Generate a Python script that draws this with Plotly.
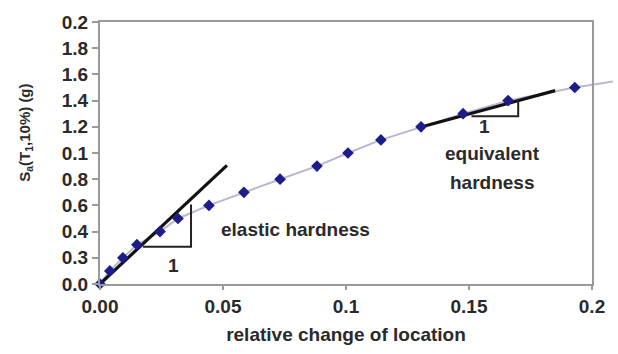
import plotly.graph_objects as go

# Pushover-style capacity curve: spectral acceleration vs relative change of location
drift = [0.0, 0.004, 0.0093, 0.015, 0.0244, 0.0317, 0.0443, 0.0585, 0.0732,
         0.0882, 0.1008, 0.1142, 0.1305, 0.1476, 0.1659, 0.193]
sa = [0.0, 0.1, 0.2, 0.3, 0.4, 0.5, 0.6, 0.7, 0.8, 0.9, 1.0, 1.1, 1.2, 1.3, 1.4, 1.5]

# continuation of the fitted curve past the last analysis point
curve_tail_x = [0.193, 0.2085]
curve_tail_y = [1.5, 1.545]

# tangent lines
elastic_x = [0.0, 0.0516]
elastic_y = [0.0, 0.906]
equiv_x = [0.132, 0.185]
equiv_y = [1.206, 1.476]

# slope triangles (x0, x1, y0, y1)
elastic_tri = [0.0175, 0.0370, 0.285, 0.607]
equiv_tri = [0.1510, 0.1700, 1.280, 1.400]

y_tickvals = [0.0, 0.2, 0.4, 0.6, 0.8, 1.0, 1.2, 1.4, 1.6, 1.8, 2.0]
y_ticktext = ["0.0", "0.3", "0.4", "0.6", "0.8", "0.1", "1.2", "1.4", "1.6", "1.8", "0.2"]
x_tickvals = [0.0, 0.05, 0.1, 0.15, 0.2]
x_ticktext = ["0.00", "0.05", "0.1", "0.15", "0.2"]

X_RANGE = [0, 0.2]
Y_RANGE = [0, 2.0]

FONT = "Arial, Liberation Sans, sans-serif"
TXT = "#2a2a2a"
AX = "#9a9a9a"
CURVE = "#b9b8cf"


def to_paper(v, rng):
    return (v - rng[0]) / (rng[1] - rng[0])


fig = go.Figure()

fig.add_trace(go.Scatter(x=drift, y=sa, mode="lines", line=dict(color=CURVE, width=2),
                         hoverinfo="skip", showlegend=False))
# the curve keeps running a little past the frame on the right
fig.add_shape(type="line", xref="paper", yref="paper",
              x0=to_paper(curve_tail_x[0], X_RANGE), y0=to_paper(curve_tail_y[0], Y_RANGE),
              x1=to_paper(curve_tail_x[1], X_RANGE), y1=to_paper(curve_tail_y[1], Y_RANGE),
              line=dict(color=CURVE, width=2), layer="below")

fig.add_trace(go.Scatter(x=elastic_x, y=elastic_y, mode="lines",
                         line=dict(color="#111111", width=3.2), showlegend=False))
fig.add_trace(go.Scatter(x=equiv_x, y=equiv_y, mode="lines",
                         line=dict(color="#111111", width=3.2), showlegend=False))
fig.add_trace(go.Scatter(x=drift, y=sa, mode="markers",
                         marker=dict(symbol="diamond", size=9, color="#1c1c8a"),
                         cliponaxis=False, showlegend=False))

for tri in (elastic_tri, equiv_tri):
    x0, x1, y0, y1 = tri
    fig.add_trace(go.Scatter(x=[x0, x1, x1], y=[y0, y0, y1], mode="lines",
                             line=dict(color="#222222", width=2),
                             showlegend=False, hoverinfo="skip"))

ann_font = dict(family=FONT, size=19, color=TXT, weight="bold")
fig.add_annotation(x=0.0297, y=0.142, text="1", showarrow=False, font=ann_font)
fig.add_annotation(x=0.0485, y=0.415, text="elastic hardness", showarrow=False,
                   xanchor="left", font=ann_font)
fig.add_annotation(x=0.1565, y=1.20, text="1", showarrow=False, font=ann_font)
fig.add_annotation(x=0.1595, y=0.995, text="equivalent", showarrow=False, font=ann_font)
fig.add_annotation(x=0.1595, y=0.775, text="hardness", showarrow=False, font=ann_font)

# y-axis title placed as a rotated annotation left of the tick labels
fig.add_annotation(x=0, xref="paper", xshift=-86, y=1.15, yref="y",
                   text="S<sub>a</sub>(T<sub>1</sub>,10%) (g)", textangle=-90,
                   showarrow=False,
                   font=dict(family=FONT, size=15, color=TXT, weight="bold"))

fig.update_layout(
    width=618, height=354,
    margin=dict(l=100, r=26, t=17, b=70),
    paper_bgcolor="white", plot_bgcolor="white",
    font=dict(family=FONT, color=TXT),
    xaxis=dict(range=X_RANGE, tickvals=x_tickvals, ticktext=x_ticktext,
               showgrid=False, zeroline=False, showline=True, linecolor=AX,
               linewidth=2, mirror=True, ticks="outside", ticklen=4,
               tickcolor=AX, tickwidth=2,
               tickfont=dict(family=FONT, size=19, color=TXT, weight="bold"),
               title=dict(text="relative change of location", standoff=12,
                          font=dict(family=FONT, size=19, color=TXT, weight="bold"))),
    yaxis=dict(range=Y_RANGE, tickvals=y_tickvals, ticktext=y_ticktext,
               showgrid=False, zeroline=False, showline=True, linecolor=AX,
               linewidth=2, mirror=True, ticks="outside", ticklen=6,
               tickcolor=AX, tickwidth=2,
               tickfont=dict(family=FONT, size=19, color=TXT, weight="bold")),
)

fig.write_html("out.html")
